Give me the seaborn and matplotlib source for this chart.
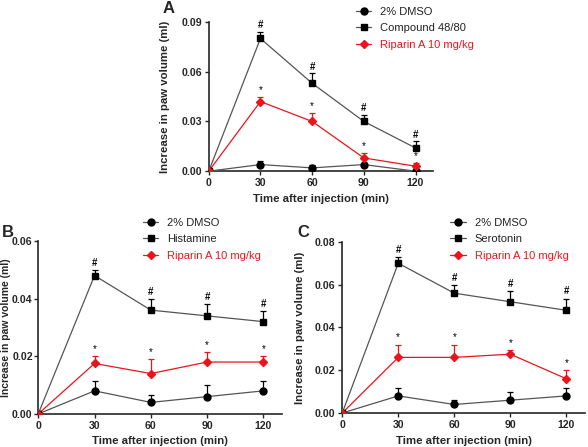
import numpy as np
import pandas as pd
import matplotlib
matplotlib.use('Agg')
import matplotlib.pyplot as plt
import seaborn as sns

sns.set_style('ticks')
plt.rcParams['font.family'] = ['Liberation Sans', 'DejaVu Sans']

# time points (min)
time = [0, 30, 60, 90, 120]

# Panel A - compound 48/80
a_dmso = [0, 0.004, 0.002, 0.004, 0.0]
a_dmso_err = [0, 0.002, 0.0015, 0.001, 0.0005]
a_comp = [0, 0.080, 0.053, 0.030, 0.014]
a_comp_err = [0, 0.004, 0.006, 0.004, 0.004]
a_rip = [0, 0.042, 0.030, 0.008, 0.003]
a_rip_err = [0, 0.003, 0.005, 0.003, 0.002]

# Panel B - histamine
b_dmso = [0, 0.008, 0.004, 0.006, 0.008]
b_dmso_err = [0, 0.0035, 0.0025, 0.004, 0.0035]
b_hist = [0, 0.048, 0.036, 0.034, 0.032]
b_hist_err = [0, 0.002, 0.004, 0.004, 0.0037]
b_rip = [0, 0.0175, 0.014, 0.018, 0.018]
b_rip_err = [0, 0.0025, 0.005, 0.0035, 0.002]

# Panel C - serotonin
c_dmso = [0, 0.008, 0.004, 0.006, 0.008]
c_dmso_err = [0, 0.0035, 0.002, 0.004, 0.0035]
c_sero = [0, 0.070, 0.056, 0.052, 0.048]
c_sero_err = [0, 0.003, 0.004, 0.005, 0.0055]
c_rip = [0, 0.026, 0.026, 0.0275, 0.016]
c_rip_err = [0, 0.006, 0.006, 0.002, 0.004]

RED = '#e8161c'
BLACK = '#000000'
LINE_GRAY = '#555555'


def draw_panel(ax, dmso, dmso_err, agent, agent_err, rip, rip_err,
               agent_name, ymax, yticks, ylabel_x, ylabel_size=8.2, ypad=2):
    series = [
        ('2% DMSO', dmso, dmso_err, 'o', BLACK, LINE_GRAY, None),
        (agent_name, agent, agent_err, 's', BLACK, LINE_GRAY, '#'),
        ('Riparin A 10 mg/kg', rip, rip_err, 'D', RED, RED, '*'),
    ]
    handles = []
    for name, vals, errs, mk, mcol, lcol, sig in series:
        df = pd.DataFrame({'time': time, 'value': vals})
        ax.errorbar(time, vals, yerr=[np.zeros(len(errs)), errs], fmt='none',
                    ecolor=mcol, elinewidth=0.9, capsize=2.5, capthick=0.9,
                    zorder=2)
        sns.lineplot(data=df, x='time', y='value', ax=ax, color=lcol,
                     linewidth=0.9, zorder=3, legend=False)
        ms = 4.5 if mk == 'D' else 5
        ax.plot(time, vals, linestyle='none', marker=mk, markersize=ms,
                color=mcol, zorder=4)
        h, = ax.plot([], [], color=lcol, linewidth=0.9, marker=mk,
                     markersize=ms, markerfacecolor=mcol,
                     markeredgecolor=mcol)
        handles.append((h, name))
        if sig:
            for t, v, e in zip(time[1:], vals[1:], errs[1:]):
                ax.text(t, v + e + ymax * 0.012, sig, ha='center',
                        va='bottom', fontsize=7, color=BLACK,
                        fontweight='bold' if sig == '#' else 'normal')
    ax.set_xlim(0, 130)
    ax.set_ylim(0, ymax)
    ax.set_xticks([0, 30, 60, 90, 120])
    ax.set_yticks(yticks)
    ax.set_yticklabels(['{:.2f}'.format(v) for v in yticks])
    ax.set_xlabel('Time after injection (min)', fontsize=8.2, fontweight='bold')
    ax.set_ylabel('Increase in paw volume (ml)', fontsize=ylabel_size,
                  fontweight='bold')
    ax.yaxis.set_label_coords(ylabel_x, 0.5)
    for lbl in ax.get_xticklabels() + ax.get_yticklabels():
        lbl.set_fontweight('bold')
        lbl.set_fontsize(7.6)
    ax.tick_params(length=3, width=1, pad=2)
    ax.tick_params(axis='y', pad=ypad)
    for s in ['left', 'bottom']:
        ax.spines[s].set_linewidth(1.2)
    sns.despine(ax=ax)
    return handles


fig = plt.figure(figsize=(5.88, 4.47), dpi=100)

ax_a = fig.add_axes([0.355, 0.617, 0.381, 0.334])
ax_b = fig.add_axes([0.065, 0.074, 0.415, 0.387])
ax_c = fig.add_axes([0.582, 0.076, 0.413, 0.383])

h_a = draw_panel(ax_a, a_dmso, a_dmso_err, a_comp, a_comp_err, a_rip, a_rip_err,
                 'Compound 48/80', 0.09, [0.0, 0.03, 0.06, 0.09], -0.175)
h_b = draw_panel(ax_b, b_dmso, b_dmso_err, b_hist, b_hist_err, b_rip, b_rip_err,
                 'Histamine', 0.06, [0.0, 0.02, 0.04, 0.06], -0.11, 7.5, 1)
h_c = draw_panel(ax_c, c_dmso, c_dmso_err, c_sero, c_sero_err, c_rip, c_rip_err,
                 'Serotonin', 0.08, [0.0, 0.02, 0.04, 0.06, 0.08], -0.155)

for handles, pos in [(h_a, (0.605, 0.985)), (h_b, (0.243, 0.513)), (h_c, (0.766, 0.513))]:
    leg = fig.legend([h for h, _ in handles], [n for _, n in handles],
                     loc='upper left', bbox_to_anchor=pos, frameon=False,
                     fontsize=8, handlelength=1.4, handletextpad=0.8,
                     labelspacing=0.6, borderaxespad=0, borderpad=0)
    for txt, (h, _) in zip(leg.get_texts(), handles):
        txt.set_color(RED if h.get_color() == RED else '#222222')

fig.text(0.277, 0.998, 'A', fontsize=12, fontweight='bold', va='top')
fig.text(0.004, 0.497, 'B', fontsize=12, fontweight='bold', va='top')
fig.text(0.505, 0.497, 'C', fontsize=12, fontweight='bold', va='top')

fig.savefig('out.png', dpi=100)
